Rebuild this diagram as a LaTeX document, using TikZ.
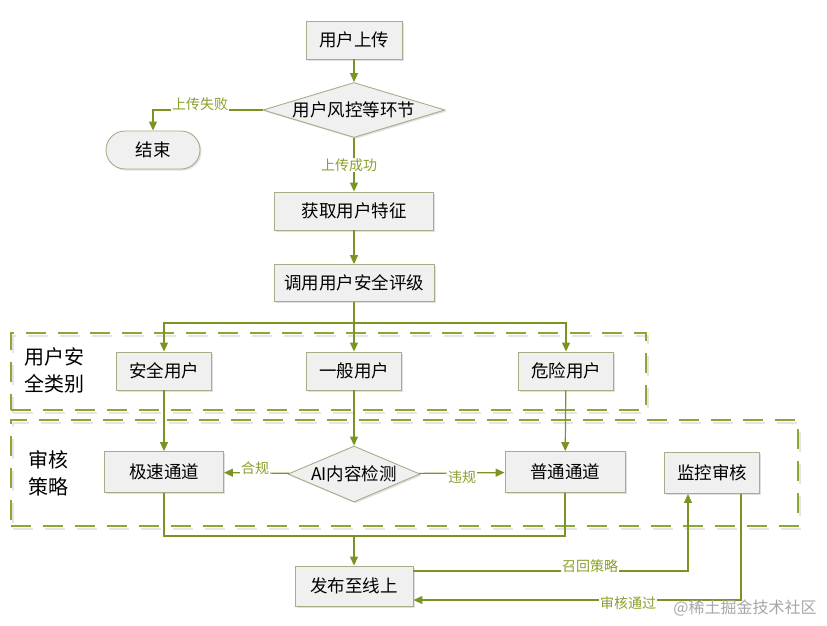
\documentclass[tikz,border=0pt]{standalone}
\usepackage{fontspec}
\setmainfont{Noto Sans CJK SC}
\usetikzlibrary{arrows.meta,positioning,shapes.geometric,shadows}
\definecolor{linegreen}{RGB}{122,148,36}
\definecolor{labelgreen}{RGB}{136,160,44}
\definecolor{dashgreen}{RGB}{140,168,52}
\definecolor{boxedge}{RGB}{166,174,136}
\definecolor{boxfill}{RGB}{240,240,240}

\begin{document}
\begin{tikzpicture}[x=1pt,y=-1pt,
    box/.style={rectangle,draw=boxedge,fill=boxfill,line width=0.9pt,inner sep=0pt,minimum height=38pt,
        font=\fontsize{17.5}{20}\selectfont,drop shadow={shadow xshift=1.5pt,shadow yshift=-1.5pt,opacity=0.3,fill=black!40}},
    choice/.style={diamond,draw=boxedge,fill=boxfill,line width=0.9pt,inner sep=0pt,
        font=\fontsize{17.5}{20}\selectfont,drop shadow={shadow xshift=1.5pt,shadow yshift=-1.5pt,opacity=0.3,fill=black!40}},
    flow/.style={draw=linegreen,line width=1.2pt,-{Triangle[width=8pt,length=9pt]}},
    link/.style={draw=linegreen,line width=1.2pt},
    tag/.style={text=labelgreen,fill=white,inner sep=1pt,font=\fontsize{14}{16}\selectfont},
    group/.style={rectangle,draw=dashgreen,line width=2pt,dash pattern=on 20pt off 12pt,inner sep=0pt},
    grouptag/.style={align=left,font=\fontsize{20}{27}\selectfont}]

    \useasboundingbox (0,0) rectangle (827,625);

    % Dashed groups
    \node[group,draw=black!10,minimum width=635pt,minimum height=77pt] (usershade) at (330.5,374.5) {};
    \node[group,minimum width=635pt,minimum height=77pt] (usergroup) at (328.5,371.5) {};
    \node[group,draw=black!10,minimum width=787pt,minimum height=106pt] (auditshade) at (406.5,476) {};
    \node[group,minimum width=787pt,minimum height=106pt] (auditgroup) at (404.5,473) {};
    \node[grouptag] (usertag) at (54,370) {用户安\\全类别};
    \node[grouptag] (audittag) at (48,473) {审核\\策略};

    \node[box,minimum width=96pt] (upload) at (354,40) {用户上传};
    \node[choice,aspect=3.3,minimum width=182pt,minimum height=55pt] (risk) at (354,110) {用户风控等环节};
    \node[box,rounded corners=19pt,minimum width=94pt] (finish) at (153,150) {结束};
    \node[box,minimum width=159pt] (feature) at (354,211) {获取用户特征};
    \node[box,minimum width=160pt,minimum height=37pt] (rating) at (354,283) {调用用户安全评级};
    \node[box,minimum width=95pt] (safe) at (164,371) {安全用户};
    \node[box,minimum width=95pt] (normal) at (354,371) {一般用户};
    \node[box,minimum width=95pt] (danger) at (566,371) {危险用户};
    \node[box,minimum width=119pt,minimum height=41pt] (fast) at (164,472) {极速通道};
    \node[choice,aspect=2.36,minimum width=132pt,minimum height=56pt] (ai) at (354,474) {AI内容检测};
    \node[box,minimum width=120pt,minimum height=41pt] (common) at (565,472) {普通通道};
    \node[box,minimum width=95pt,minimum height=41pt] (monitor) at (712,473) {监控审核};
    \node[box,minimum width=118pt,minimum height=40pt] (publish) at (354,586) {发布至线上};

    \coordinate (split) at (354,323);
    \coordinate (merge) at (354,536);

    \draw[flow] (upload) -- (risk);
    \draw[flow] (risk.west) -| (finish.north);
    \draw[flow] (risk) -- (feature);
    \draw[flow] (feature) -- (rating);
    \draw[flow] (rating) -- (normal);
    \draw[flow] (split) -| (safe.north);
    \draw[flow] (split) -| (danger.north);
    \draw[flow] (safe) -- (fast);
    \draw[flow] (danger) -- (common);
    \draw[flow] (normal) -- (ai);
    \draw[flow] (ai) -- (fast);
    \draw[flow] (ai) -- (common);
    \draw[link] (fast.south) |- (merge) -| (common.south);
    \draw[flow] (merge) -- (publish);
    \draw[flow] ([yshift=15pt]publish.east) -| ([xshift=-24pt]monitor.south);
    \draw[flow] ([xshift=29pt]monitor.south) |- ([yshift=-14pt]publish.east);

    % Edge labels
    \node[tag] (failtag) at (200,104) {上传失败};
    \node[tag] (oktag) at (349,165) {上传成功};
    \node[tag] (passtag) at (255,468) {合规};
    \node[tag] (bantag) at (462,477) {违规};
    \node[tag] (recalltag) at (590,566) {召回策略};
    \node[tag] (approvetag) at (628,603) {审核通过};

    \node[text=black!35,font=\fontsize{16}{18}\selectfont] (mark) at (745,608) {@稀土掘金技术社区};
\end{tikzpicture}
\end{document}
